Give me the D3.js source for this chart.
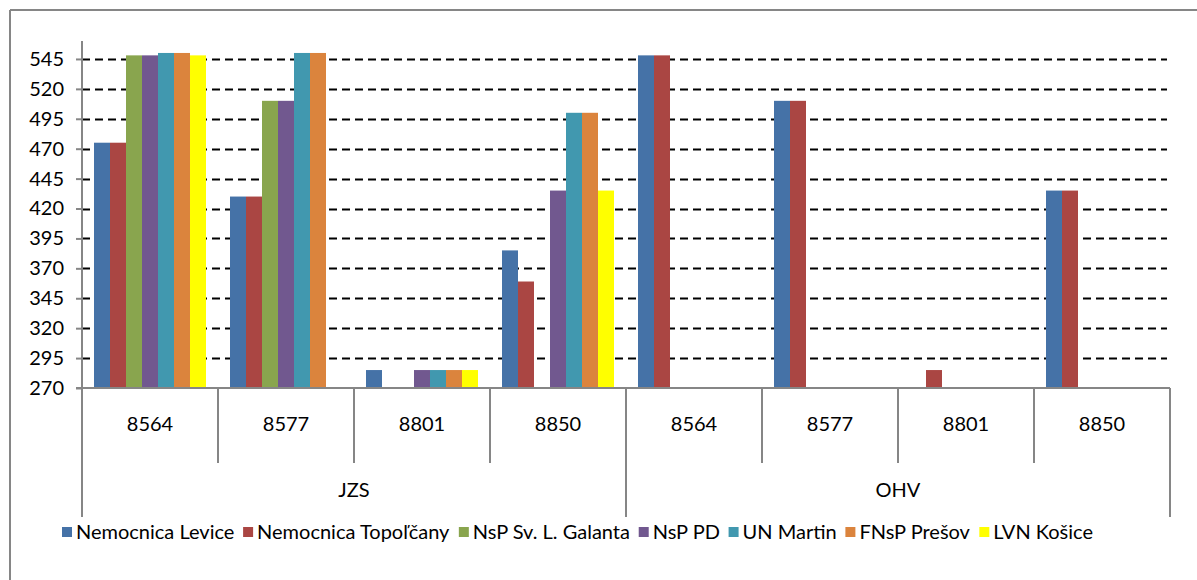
<!DOCTYPE html>
<html>
<head>
<meta charset="utf-8">
<script src="https://cdn.jsdelivr.net/npm/d3@7"></script>
<style>
  html, body { margin: 0; padding: 0; background: #fff; }
  svg { display: block; font-family: Lato, "Liberation Sans", sans-serif; }
</style>
</head>
<body>
<svg id="chart" width="1197" height="580"></svg>
<script>
// ---- data ----
const outerCategories = ["JZS", "OHV"];
const innerCategories = ["8564", "8577", "8801", "8850"];
const series = ["Nemocnica Levice", "Nemocnica Topoľčany", "NsP Sv. L. Galanta", "NsP PD", "UN Martin", "FNsP Prešov", "LVN Košice"];
const colors = ["#4572A7", "#AA4643", "#89A54E", "#71588F", "#4198AF", "#DB843D", "#FFFF00"];
// values per series, across the 8 categories (JZS 8564, 8577, 8801, 8850, OHV 8564, 8577, 8801, 8850); null = no bar
const levice     = [475, 430, 285, 385, 548, 510, null, 435];
const topolcany  = [475, 430, null, 359, 548, 510, 285, 435];
const galanta    = [548, 510, null, null, null, null, null, null];
const nspPD      = [548, 510, 285, 435, null, null, null, null];
const unMartin   = [550, 550, 285, 500, null, null, null, null];
const fnspPresov = [550, 550, 285, 500, null, null, null, null];
const lvnKosice  = [548, null, 285, 435, null, null, null, null];
const seriesValues = [levice, topolcany, galanta, nspPD, unMartin, fnspPresov, lvnKosice];
const yTicks = [270, 295, 320, 345, 370, 395, 420, 445, 470, 495, 520, 545];
const yDomain = [270, 560];

(function () {
// ---- layout ----
const svg = d3.select("#chart");
const pLeft = 82, pRight = 1170, pTop = 41, pBottom = 388;
const axisGray = "#868686";
const fs = 20;

// frame
svg.append("line").attr("x1", 10).attr("x2", 1197).attr("y1", 10).attr("y2", 10)
  .attr("stroke", axisGray).attr("stroke-width", 2);
svg.append("line").attr("x1", 10).attr("x2", 10).attr("y1", 10).attr("y2", 580)
  .attr("stroke", axisGray).attr("stroke-width", 2);

const cats = [];
outerCategories.forEach(o => innerCategories.forEach(i => cats.push(o + "|" + i)));

const x0 = d3.scaleBand().domain(cats).range([pLeft, pRight]).padding(0);
const x1 = d3.scaleBand().domain(series)
  .range([12, x0.bandwidth() - 12]).padding(0);
const y = d3.scaleLinear().domain(yDomain).range([pBottom, pTop]);

// gridlines
svg.append("g").selectAll("line").data(yTicks.filter(t => t !== 270)).join("line")
  .attr("x1", pLeft).attr("x2", pRight - 3)
  .attr("y1", d => Math.round(y(d)) + 0.5).attr("y2", d => Math.round(y(d)) + 0.5)
  .attr("stroke", "#000").attr("stroke-width", 2).attr("stroke-dasharray", "8,5");

// bars
const barG = svg.append("g");
series.forEach((s, si) => {
  barG.selectAll(null).data(seriesValues[si].map((v, ci) => ({ v, c: cats[ci] })).filter(d => d.v != null))
    .join("rect")
    .attr("x", d => x0(d.c) + x1(s))
    .attr("width", x1.bandwidth())
    .attr("y", d => y(d.v))
    .attr("height", d => y(yDomain[0]) - y(d.v))
    .attr("fill", colors[si]);
});

// y axis
const yAxis = d3.axisLeft(y).tickValues(yTicks).tickSize(6).tickPadding(12).tickFormat(d3.format("d"));
const yg = svg.append("g").attr("transform", `translate(${pLeft},0)`).call(yAxis);
yg.select(".domain").attr("stroke", axisGray).attr("stroke-width", 2)
  .attr("d", `M0,${pTop}V${pBottom}`);
yg.selectAll(".tick line").attr("stroke", axisGray).attr("stroke-width", 2);
yg.selectAll(".tick text").attr("font-size", fs).attr("fill", "#000")
  .attr("font-family", "Lato, sans-serif");

// x axis line
svg.append("line").attr("x1", pLeft - 6).attr("x2", pRight).attr("y1", pBottom).attr("y2", pBottom)
  .attr("stroke", axisGray).attr("stroke-width", 2);

// inner category ticks and labels
const innerBoundaries = cats.map(c => x0(c)).concat([pRight]);
svg.append("g").selectAll("line").data(innerBoundaries).join("line")
  .attr("x1", d => d).attr("x2", d => d)
  .attr("y1", pBottom).attr("y2", (d, i) => (i % innerCategories.length === 0) ? 517 : 463)
  .attr("stroke", axisGray).attr("stroke-width", 2);
svg.append("g").selectAll("text").data(cats).join("text")
  .attr("x", d => x0(d) + x0.bandwidth() / 2)
  .attr("y", 431)
  .attr("text-anchor", "middle")
  .attr("font-size", fs)
  .text(d => d.split("|")[1]);

// outer category labels
svg.append("g").selectAll("text").data(outerCategories).join("text")
  .attr("x", o => (x0(o + "|" + innerCategories[0]) + x0(o + "|" + innerCategories[innerCategories.length - 1]) + x0.bandwidth()) / 2)
  .attr("y", 497)
  .attr("text-anchor", "middle")
  .attr("font-size", fs)
  .text(o => o);

// legend
const legG = svg.append("g");
const items = legG.selectAll("g").data(series).join("g");
items.append("rect").attr("width", 10).attr("height", 10).attr("y", -5)
  .attr("fill", (d, i) => colors[i]);
items.append("text").attr("x", 14).attr("y", 0).attr("dy", "0.35em")
  .attr("font-size", fs).text(d => d);
const widths = items.nodes().map(n => n.getBBox().width);
const legStart = 62, legEnd = 1093;
const total = d3.sum(widths);
const gap = (legEnd - legStart - total) / (series.length - 1);
let cx = legStart;
items.each(function (d, i) {
  d3.select(this).attr("transform", `translate(${cx},532)`);
  cx += widths[i] + gap;
});
})();
</script>
</body>
</html>
